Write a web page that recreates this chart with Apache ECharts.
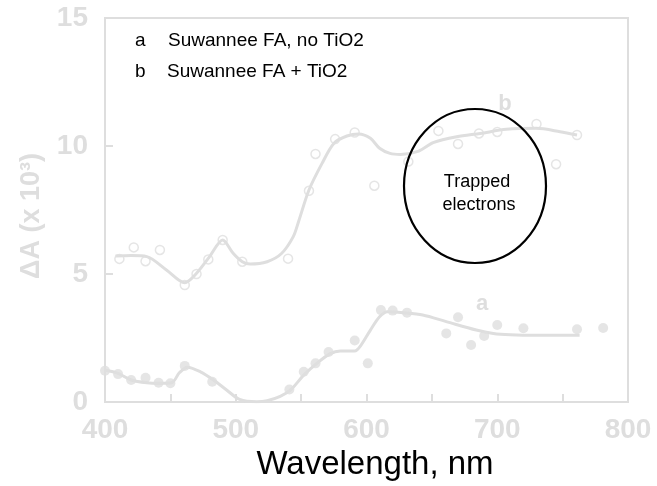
<!DOCTYPE html>
<html>
<head>
<meta charset="utf-8">
<script src="https://cdn.jsdelivr.net/npm/echarts@6/dist/echarts.min.js"></script>
<style>html,body{margin:0;padding:0;background:#fff}#c{width:657px;height:486px}</style>
</head>
<body>
<div id="c"></div>
<script>
// Series b: Suwannee FA + TiO2 (open circles)
const bX = [411, 422, 431, 442, 461, 470, 479, 490, 505, 540, 556, 561, 576, 591, 606, 632, 655, 670, 686, 700, 730, 745, 761];
const bY = [5.59, 6.04, 5.50, 5.94, 4.57, 5.00, 5.57, 6.33, 5.48, 5.60, 8.25, 9.69, 10.27, 10.53, 8.45, 9.39, 10.59, 10.08, 10.49, 10.55, 10.86, 9.29, 10.43];
// Series a: Suwannee FA, no TiO2 (filled circles)
const aX = [400, 410, 420, 431, 441, 450, 461, 482, 541, 552, 561, 571, 591, 601, 611, 620, 631, 661, 670, 680, 690, 700, 720, 761, 781];
const aY = [1.22, 1.09, 0.86, 0.95, 0.75, 0.73, 1.41, 0.79, 0.49, 1.18, 1.51, 1.95, 2.40, 1.51, 3.59, 3.57, 3.49, 2.68, 3.31, 2.23, 2.58, 3.01, 2.88, 2.84, 2.89];
// Smoothed trend lines
const bFitX = [408, 420, 432, 447, 461, 470, 480, 490, 498, 505, 511, 524, 535, 544, 548, 556, 566, 575, 585, 594, 603, 610, 618, 626, 640, 651, 669, 687, 707, 730, 748, 761];
const bFitY = [5.70, 5.72, 5.68, 5.16, 4.66, 5.03, 5.68, 6.33, 5.81, 5.48, 5.39, 5.48, 5.80, 6.46, 7.04, 8.28, 9.32, 10.10, 10.39, 10.47, 10.30, 9.91, 9.71, 9.67, 9.80, 10.13, 10.36, 10.49, 10.65, 10.69, 10.56, 10.43];
const aFitX = [400, 410, 420, 432, 442, 451, 457, 463, 473, 483, 493, 503, 516, 524, 534, 542, 552, 562, 572, 580, 591, 595, 603, 610, 616, 628, 643, 661, 684, 697, 710, 730, 763];
const aFitY = [1.25, 1.12, 0.86, 0.75, 0.73, 0.75, 1.15, 1.36, 1.18, 0.86, 0.47, 0.10, 0.01, 0.05, 0.22, 0.47, 1.05, 1.51, 1.88, 1.99, 1.99, 2.16, 2.81, 3.33, 3.53, 3.49, 3.40, 3.14, 2.81, 2.68, 2.63, 2.61, 2.61];
const xTicks = [400, 500, 600, 700, 800];
const yTicks = [0, 5, 10, 15];
const legendLines = [['a', 'Suwannee FA, no TiO2'], ['b', 'Suwannee FA + TiO2']];

const zip = (xs, ys) => xs.map((x, i) => [x, ys[i]]);
const G = '#dedede';
const chart = echarts.init(document.getElementById('c'), null, {renderer: 'canvas'});
const axisFont = {color: G, fontFamily: 'Liberation Sans, Arial, sans-serif', fontWeight: 'bold', fontSize: 28};
const LF = '19px "Liberation Sans", Arial, sans-serif';

chart.setOption({
  animation: false,
  grid: {left: 105, right: 29, top: 18, bottom: 84, show: true, borderColor: G, borderWidth: 2},
  xAxis: {
    type: 'value', min: 400, max: 800, interval: 50,
    axisLine: {lineStyle: {color: G, width: 2}},
    axisTick: {inside: true, length: 8, lineStyle: {color: G, width: 2}},
    splitLine: {show: false},
    axisLabel: Object.assign({margin: 14, formatter: v => xTicks.includes(v) ? String(v) : ''}, axisFont)
  },
  yAxis: {
    type: 'value', min: 0, max: 15, interval: 5,
    axisLine: {lineStyle: {color: G, width: 2}},
    axisTick: {inside: true, length: 8, lineStyle: {color: G, width: 2}},
    splitLine: {show: false},
    axisLabel: Object.assign({margin: 17, formatter: v => yTicks.includes(v) ? String(v) : ''}, axisFont)
  },
  series: [
    {type: 'line', data: zip(bFitX, bFitY), smooth: 0.3, showSymbol: false, lineStyle: {color: G, width: 3}, z: 2},
    {type: 'line', data: zip(aFitX, aFitY), smooth: 0.3, showSymbol: false, lineStyle: {color: G, width: 3}, z: 2},
    {type: 'scatter', data: zip(bX, bY), symbol: 'circle', symbolSize: 9,
     itemStyle: {color: 'rgba(255,255,255,0)', borderColor: G, borderWidth: 1.5}, z: 3},
    {type: 'scatter', data: zip(aX, aY), symbol: 'circle', symbolSize: 10,
     itemStyle: {color: G}, z: 3}
  ],
  graphic: [
    {type: 'text', left: 135, top: 31, style: {text: legendLines[0][0], font: LF, fill: '#000'}},
    {type: 'text', left: 168, top: 31, style: {text: legendLines[0][1], font: LF, fill: '#000'}},
    {type: 'text', left: 135, top: 62, style: {text: legendLines[1][0], font: LF, fill: '#000'}},
    {type: 'text', left: 167, top: 62, style: {text: legendLines[1][1], font: LF, fill: '#000'}},
    {type: 'ellipse', shape: {cx: 475, cy: 186, rx: 71, ry: 77}, style: {fill: 'none', stroke: '#000', lineWidth: 2.2}, z: 10},
    {type: 'text', x: 477, y: 182, style: {text: 'Trapped', font: '18px "Liberation Sans", Arial, sans-serif', fill: '#000', textAlign: 'center', textVerticalAlign: 'middle'}, z: 10},
    {type: 'text', x: 479, y: 205, style: {text: 'electrons', font: '18px "Liberation Sans", Arial, sans-serif', fill: '#000', textAlign: 'center', textVerticalAlign: 'middle'}, z: 10},
    {type: 'text', x: 482, y: 304, style: {text: 'a', font: 'bold 22px "Liberation Sans", Arial, sans-serif', fill: G, textAlign: 'center', textVerticalAlign: 'middle'}, z: 10},
    {type: 'text', x: 505, y: 104, style: {text: 'b', font: 'bold 22px "Liberation Sans", Arial, sans-serif', fill: G, textAlign: 'center', textVerticalAlign: 'middle'}, z: 10},
    {type: 'text', x: 32, y: 216, rotation: Math.PI / 2, style: {text: 'ΔA (x 10³)', font: 'bold 27px "Liberation Sans", Arial, sans-serif', fill: G, textAlign: 'center', textVerticalAlign: 'middle'}, z: 10},
    {type: 'text', x: 375, y: 465, style: {text: 'Wavelength, nm', font: '33px "Liberation Sans", Arial, sans-serif', fill: '#000', textAlign: 'center', textVerticalAlign: 'middle'}, z: 10}
  ]
});
</script>
</body>
</html>
